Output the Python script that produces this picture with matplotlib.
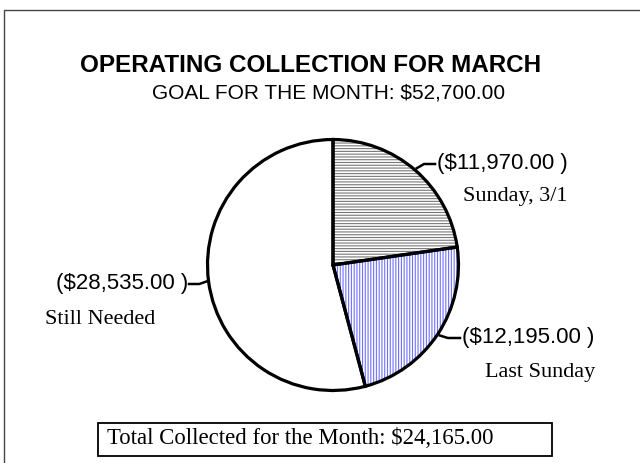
import numpy as np
import matplotlib.pyplot as plt
from matplotlib.patches import Rectangle

# datos del grafico
categorias = ["Sunday, 3/1", "Last Sunday", "Still Needed"]
montos = [11970.00, 12195.00, 28535.00]
etiquetas_monto = ["($11,970.00 )", "($12,195.00 )", "($28,535.00 )"]

titulo = "OPERATING COLLECTION FOR MARCH"
subtitulo = "GOAL FOR THE MONTH: $52,700.00"
texto_total = "Total Collected for the Month: $24,165.00"

W, H = 640, 463
fig = plt.figure(figsize=(W / 100, H / 100), dpi=100)
plt.rcParams["hatch.linewidth"] = 0.8


def fx(px):
    return px / W


def fy(py):
    return 1 - py / H


# marco gris que sale por la derecha y por abajo
fig.patches.append(Rectangle((fx(4), fy(500)), fx(700), 490 / H,
                             transform=fig.transFigure, fill=False,
                             edgecolor="#444444", linewidth=1))

# ==== pastel ====
cx, cy, r = 333, 265, 128
ax = fig.add_axes([fx(cx - r), fy(cy + r), 2 * r / W, 2 * r / H])
ax.set_aspect("equal")

sombreado = ["------", "||||||", ""]
color_sombra = ["#787878", "#7070ff", "white"]
wedges, _ = ax.pie(montos, startangle=90, counterclock=False,
                   colors=["white"] * 3, wedgeprops=dict(linewidth=0))
for w, h, c in zip(wedges, sombreado, color_sombra):
    w.set_hatch(h)
    w.set_edgecolor(c)

ax.pie(montos, startangle=90, counterclock=False,
       wedgeprops=dict(fill=False, edgecolor="black", linewidth=2.3))
ax.set_xlim(-1.02, 1.02)
ax.set_ylim(-1.02, 1.02)

# ==== textos ====
sans = "Liberation Sans"
serif = "Liberation Serif"
fig.text(fx(80), fy(66), titulo, ha="left", va="center",
         fontsize=17.5, fontweight="bold", family=sans)
fig.text(fx(152), fy(93), subtitulo, ha="left", va="center",
         fontsize=15, family=sans)

# posiciones de texto (px) para cada porcion
pos_monto = [(437, 164, "left"), (462, 338, "left"), (188, 284, "right")]
pos_cat = [(463, 196, "left"), (485, 372, "left"), (45, 320, "left")]
angulos = 90 - 360 * (np.cumsum(montos) - np.array(montos) / 2) / sum(montos)
for i in range(3):
    a = np.deg2rad(angulos[i])
    ex, ey = cx + r * np.cos(a), cy - r * np.sin(a)
    tx, ty, ha = pos_monto[i]
    fin = tx - 2 if ha == "left" else tx + 1
    fig.add_artist(plt.Line2D([fx(ex), fx(ex + (fin - ex) * 0.4), fx(fin)],
                              [fy(ey), fy(ty), fy(ty)], color="black",
                              linewidth=1.8, transform=fig.transFigure))
    fig.text(fx(tx), fy(ty), etiquetas_monto[i], ha=ha, va="center",
             fontsize=16, family=sans)
    px_, py_, ha2 = pos_cat[i]
    fig.text(fx(px_), fy(py_), categorias[i], ha=ha2, va="center",
             fontsize=16, family=serif)

# caja del total
fig.text(fx(107), fy(439), texto_total, ha="left", va="center",
         fontsize=16.4, family=serif)
fig.patches.append(Rectangle((fx(98), fy(456)), fx(454), 33 / H,
                             transform=fig.transFigure, fill=False,
                             edgecolor="black", linewidth=1.3))

fig.savefig("out.png", dpi=100)
